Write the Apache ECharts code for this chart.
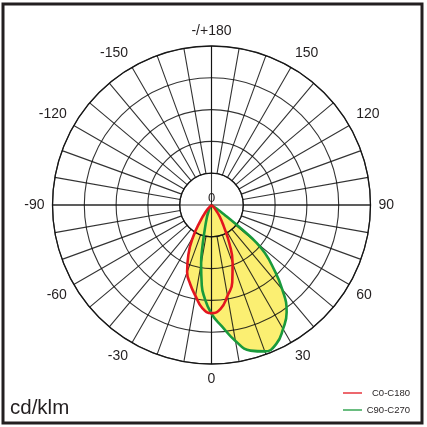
<!DOCTYPE html>
<html>
<head>
<meta charset="utf-8">
<script src="https://cdn.jsdelivr.net/npm/echarts@6/dist/echarts.min.js"></script>
<style>
html,body{margin:0;padding:0;background:#fff;}
#c{width:427px;height:427px;}
</style>
</head>
<body>
<div id="c"></div>
<script>
// ---- data ----
const seriesNames = ['C0-C180', 'C90-C270'];
const angleTickLabels = ['0', '30', '60', '90', '120', '150', '-/+180', '-150', '-120', '-90', '-60', '-30'];
const radiusTickLabels = ['0'];
const unitLabel = 'cd/klm';

const c0Angles = [-50, -45, -40, -35, -30, -25, -20, -15, -10, -5, 0, 5, 10, 15, 20, 25, 30, 35, 40, 45, 50];
const c0Values = [0, 5, 14, 30, 58, 86, 112, 129, 145, 163, 170, 164, 145, 126, 97, 66, 38, 23, 11, 5, 0];

const c90Angles = [-35, -30, -25, -20, -15, -12, -10, -7, -5, 0, 5, 10, 15, 20, 25, 30, 35, 40, 45, 48, 50, 51, 52, 53, 55, 60];
const c90Values = [0, 5, 11, 22, 42, 71, 94, 126, 142, 171, 192, 217, 237, 245, 241, 225, 206, 173, 135, 113, 91, 72, 46, 26, 9, 0];

// ---- styles ----
const FONT = 'Liberation Sans, Arial, sans-serif';
const TEXT = '#231f20';
const GRID = 'rgba(15,15,15,0.85)';
const RED = '#e3161f';
const GREEN = '#1a9a3c';
const YELLOW = '#fbef72';
const CENTER = [211.5, 205];
const R = 159;

function toData(angles, values) {
  return angles.map((a, i) => [values[i], (a + 360) % 360]);
}
const c0Data = toData(c0Angles, c0Values);
const c90Data = toData(c90Angles, c90Values);

const chart = echarts.init(document.getElementById('c'), null, {renderer: 'canvas'});
const option = {
  animation: false,
  backgroundColor: '#fff',
  title: {
    text: unitLabel, left: 10, top: 398, padding: 0,
    textStyle: {fontSize: 20.5, fontWeight: 'normal', fontFamily: FONT, color: TEXT}
  },
  legend: {
    data: [
      {name: seriesNames[0], itemStyle: {color: RED}},
      {name: seriesNames[1], itemStyle: {color: GREEN}}
    ],
    orient: 'vertical', left: 343, top: 388, padding: 0,
    icon: 'rect', itemWidth: 19, itemHeight: 1.3, itemGap: 7,
    formatter: n => '{a|' + n + '}',
    textStyle: {
      fontFamily: FONT, color: TEXT, fontSize: 9.5,
      rich: {a: {width: 43, height: 11, align: 'right', fontSize: 9.5, fontFamily: FONT, color: TEXT}}
    }
  },
  graphic: [{
    type: 'rect', shape: {x: 3, y: 4, width: 419, height: 419},
    style: {fill: 'none', stroke: TEXT, lineWidth: 3}, silent: true, z: 10
  }],
  polar: [
    {center: CENTER, radius: [R / 5, R]},
    {center: CENTER, radius: [0, R]}
  ],
  angleAxis: [
    {
      polarIndex: 0, type: 'value', min: 0, max: 360, interval: 10,
      startAngle: -90, clockwise: false, z: 2,
      axisLine: {show: true, lineStyle: {color: GRID, width: 1.3}},
      axisTick: {show: false},
      splitLine: {show: true, lineStyle: {color: GRID, width: 1.1}},
      axisLabel: {
        margin: 8, fontSize: 14, fontFamily: FONT, color: TEXT,
        formatter: v => (v % 30 === 0 && v < 360) ? angleTickLabels[v / 30] : ''
      }
    },
    {
      polarIndex: 1, type: 'value', min: 0, max: 360, interval: 90,
      startAngle: -90, clockwise: false, z: 2,
      axisLine: {show: false}, axisTick: {show: false}, axisLabel: {show: false},
      splitLine: {show: true, lineStyle: {color: GRID, width: 1.1}}
    }
  ],
  radiusAxis: [
    {
      polarIndex: 0, type: 'value', min: 50, max: 250, interval: 50, z: 2,
      axisLine: {show: false}, axisTick: {show: false}, axisLabel: {show: false},
      splitLine: {show: true, lineStyle: {color: GRID, width: 1.1}}
    },
    {
      polarIndex: 1, type: 'value', min: 0, max: 250, interval: 50, z: 5,
      axisLine: {show: false}, axisTick: {show: false}, splitLine: {show: false},
      axisLabel: {
        margin: 0, fontSize: 13, fontFamily: FONT, color: TEXT,
        align: 'center', verticalAlign: 'bottom',
        formatter: v => v === 0 ? radiusTickLabels[0] : ''
      }
    }
  ],
  series: [
    {
      name: 'fill90', type: 'line', coordinateSystem: 'polar', polarIndex: 1,
      data: c90Data, smooth: 0.5, symbol: 'none', silent: true, z: 1,
      lineStyle: {width: 0, opacity: 0}, areaStyle: {color: YELLOW, opacity: 1}
    },
    {
      name: 'fill0', type: 'line', coordinateSystem: 'polar', polarIndex: 1,
      data: c0Data, smooth: 0.5, symbol: 'none', silent: true, z: 1,
      lineStyle: {width: 0, opacity: 0}, areaStyle: {color: YELLOW, opacity: 1}
    },
    {
      name: seriesNames[1], type: 'line', coordinateSystem: 'polar', polarIndex: 1,
      data: c90Data, smooth: 0.5, symbol: 'none', z: 3, color: GREEN,
      lineStyle: {width: 2.6, color: GREEN}
    },
    {
      name: seriesNames[0], type: 'line', coordinateSystem: 'polar', polarIndex: 1,
      data: c0Data, smooth: 0.5, symbol: 'none', z: 4, color: RED,
      lineStyle: {width: 2.6, color: RED}
    }
  ]
};
chart.setOption(option);
</script>
</body>
</html>
